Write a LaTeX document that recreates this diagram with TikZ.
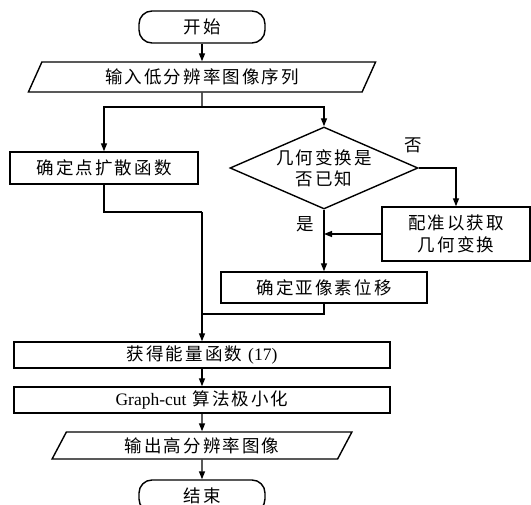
\documentclass[tikz,border=0pt]{standalone}
\usepackage{fontspec}
\setmainfont{Liberation Serif}
\newfontfamily\cjk[LetterSpace=12]{Noto Sans CJK SC}
\newcommand\latn[1]{{\normalfont #1}}
\usetikzlibrary{shapes.geometric,arrows.meta}
\begin{document}
\begin{tikzpicture}[x=1pt,y=-1pt,
  base/.style={draw, line width=1.4pt, inner sep=0pt, font=\fontsize{17.5}{22}\selectfont\cjk, align=center},
  proc/.style={base, rectangle},
  term/.style={base, rectangle, rounded corners=13pt, minimum width=126pt, minimum height=32pt},
  io/.style={base, trapezium, trapezium left angle=63.4, trapezium right angle=116.6, trapezium stretches=true},
  dec/.style={base, diamond, aspect=2.3},
  line/.style={line width=1.4pt},
  arr/.style={line, -{Triangle[length=8pt,width=6pt]}},
  lbl/.style={font=\fontsize{17.5}{22}\selectfont\cjk, inner sep=0pt}
]
\useasboundingbox (0,0) rectangle (531,505);
\node[term] (start) at (202,27) {开始};
\node[io, minimum width=348pt, minimum height=30pt] (in) at (202,77) {输入低分辨率图像序列};
\node[proc, minimum width=188pt, minimum height=32pt] (psf) at (104,168) {确定点扩散函数};
\node[dec, minimum width=188pt, minimum height=82pt, font=\fontsize{17.5}{21}\selectfont\cjk] (dec) at (324,168) {几何变换是\\否已知};
\node[proc, minimum width=148pt, minimum height=54pt] (reg) at (456,234) {配准以获取\\几何变换};
\node[proc, minimum width=206pt, minimum height=31pt] (sub) at (324,287.5) {确定亚像素位移};
\node[proc, minimum width=376pt, minimum height=26pt] (energy) at (202,355) {获得能量函数 \latn{(17)}};
\node[proc, minimum width=376pt, minimum height=26pt] (gc) at (202,400) {\latn{Graph-cut} 算法极小化};
\node[io, minimum width=300pt, minimum height=27pt] (out) at (202,445.5) {输出高分辨率图像};
\node[term] (end) at (202,496) {结束};
\node[lbl] (no) at (413,145) {否};
\node[lbl] (yes) at (305,224) {是};
\coordinate (split) at (202,107);
\coordinate (j1) at (202,212);
\coordinate (j2) at (202,314);
\draw[arr] (start) -- (in);
\draw[line] (in.south) -- (split);
\draw[arr] (split) -| (psf.north);
\draw[arr] (split) -| (dec.north);
\draw[arr] (dec.east) -| (reg.north);
\draw[arr] (reg.west) -- (reg.west -| dec.south);
\draw[arr] (dec.south) -- (sub.north);
\draw[line] (psf.south) |- (j1);
\draw[line] (sub.south) |- (j2);
\draw[arr] (j1) -- (energy.north);
\draw[arr] (energy.south) -- (gc.north);
\draw[arr] (gc.south) -- (out.north);
\draw[arr] (out.south) -- (end.north);
\end{tikzpicture}
\end{document}
